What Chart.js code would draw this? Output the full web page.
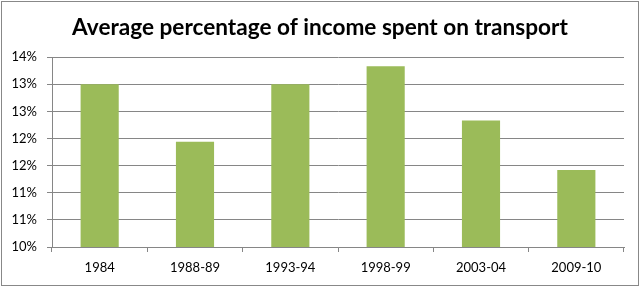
<!DOCTYPE html>
<html>
<head>
<meta charset="utf-8">
<script src="https://cdn.jsdelivr.net/npm/chart.js@4.4.1/dist/chart.umd.min.js"></script>
<style>
  html, body { margin: 0; padding: 0; background: #fff; }
  #wrap { position: relative; width: 640px; height: 287px; }
  #frame { position: absolute; left: 1px; top: 1px; width: 636px; height: 283px; border: 1px solid #888; pointer-events: none; }
</style>
</head>
<body>
<div id="wrap">
  <canvas id="chart" width="640" height="287"></canvas>
  <div id="frame"></div>
</div>
<script>
// data
const categories = ['1984', '1988-89', '1993-94', '1998-99', '2003-04', '2009-10']
const transportShare = [13.0, 11.94, 13.0, 13.33, 12.33, 11.42]
// Excel rounds the half-step labels, so several repeat
const yTickLabels = ['10%', '11%', '11%', '12%', '12%', '13%', '13%', '14%']

const axisGray = '#868686'
const labelFont = { family: 'Lato, sans-serif', size: 13 }

new Chart(document.getElementById('chart').getContext('2d'), {
  type: 'bar',
  data: {
    labels: categories,
    datasets: [{
      data: transportShare,
      backgroundColor: '#9BBB59',
      barPercentage: 1,
      categoryPercentage: 0.4,
    }],
  },
  options: {
    responsive: false,
    animation: false,
    layout: { padding: 0 },
    plugins: {
      legend: { display: false },
      tooltip: { enabled: false },
      title: {
        display: true,
        text: 'Average percentage of income spent on transport',
        color: '#000',
        font: { family: 'Lato, sans-serif', size: 22.6, weight: 'bold' },
        padding: { top: 14, bottom: 16 },
      },
    },
    scales: {
      x: {
        grid: {
          offset: true,
          drawOnChartArea: false,
          color: axisGray,
          tickLength: 5,
        },
        border: { color: axisGray },
        ticks: { color: '#000', font: labelFont, padding: 8 },
        afterFit: (scale) => { scale.height = 40 },
      },
      y: {
        min: 10,
        max: 13.5,
        grid: { color: axisGray, tickLength: 5 },
        border: { color: axisGray },
        ticks: {
          stepSize: 0.5,
          color: '#000',
          font: labelFont,
          padding: 10,
          callback: (value, index) => yTickLabels[index],
        },
        afterFit: (scale) => { scale.width = 52 },
      },
      // empty right-hand spacer so the title stays centred on the whole frame
      spacer: {
        position: 'right',
        min: 0,
        max: 1,
        grid: { display: false },
        border: { display: false },
        ticks: { display: false },
        afterFit: (scale) => { scale.width = 16 },
      },
    },
  },
})
</script>
</body>
</html>
